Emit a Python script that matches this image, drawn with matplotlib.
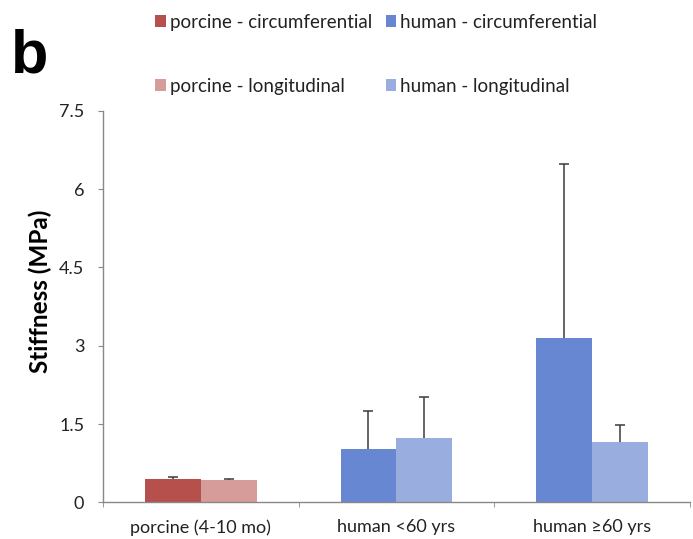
import matplotlib
matplotlib.use('Agg')
import matplotlib.pyplot as plt
from matplotlib.patches import Patch
import numpy as np

plt.rcParams['font.family'] = ['Lato', 'DejaVu Sans']

# data (stiffness, MPa; upper error = SD)
groups = ['porcine (4-10 mo)', 'human <60 yrs', 'human \u226560 yrs']
circ_mean = [0.45, 1.02, 3.14]
circ_sd = [0.03, 0.72, 3.33]
long_mean = [0.43, 1.24, 1.16]
long_sd = [0.02, 0.77, 0.33]

circ_colors = ['#B5504C', '#6887D3', '#6887D3']
long_colors = ['#D69C9A', '#99ADDF', '#99ADDF']
legend_labels = ['porcine - circumferential', 'porcine - longitudinal',
                 'human - circumferential', 'human - longitudinal']
legend_colors = ['#B5504C', '#D69C9A', '#6887D3', '#99ADDF']

yticks = [0, 1.5, 3, 4.5, 6, 7.5]
ytick_labels = ['0', '1.5', '3', '4.5', '6', '7.5']

fig = plt.figure(figsize=(6.93, 5.39), dpi=100)
ax = fig.add_axes([0.1486, 0.068, 0.847, 0.7266])

x = np.arange(len(groups))
w = 0.286
ax.bar(x - w / 2, circ_mean, w, color=circ_colors, zorder=2)
ax.bar(x + w / 2, long_mean, w, color=long_colors, zorder=2)

# upper-only error bars: drop the lower cap that errorbar always draws
for xs, m, sd in ((x - w / 2, circ_mean, circ_sd),
                  (x + w / 2, long_mean, long_sd)):
    _, caps, _ = ax.errorbar(xs, m, yerr=[np.zeros(len(sd)), sd],
                             fmt='none', ecolor='#3a3a3a', elinewidth=1.1,
                             capsize=3.6, capthick=1.1, zorder=3)
    caps[0].remove()

ax.set_xlim(-0.5, len(groups) - 0.5)
ax.set_ylim(0, 7.5)
ax.set_yticks(yticks)
ax.set_yticklabels(ytick_labels)
ax.set_xticks(x)
ax.set_xticklabels(groups)
ax.set_xticks(np.arange(len(groups) + 1) - 0.5, minor=True)
ax.tick_params(axis='x', which='major', length=0, pad=12, labelsize=13,
               labelcolor='#222222')
ax.tick_params(axis='x', which='minor', length=3.5, color='#888888')
ax.tick_params(axis='y', length=3.5, color='#888888', pad=10,
               labelsize=13, labelcolor='#222222')

for s in ('top', 'right'):
    ax.spines[s].set_visible(False)
for s in ('left', 'bottom'):
    ax.spines[s].set_color('#888888')
    ax.spines[s].set_linewidth(1.0)

ax.set_ylabel('Stiffness (MPa)', fontsize=17.5, fontweight='bold')
ax.yaxis.set_label_coords(-0.087, 0.54)

handles = [Patch(facecolor=c) for c in legend_colors]
fig.legend(handles, legend_labels, ncol=2, frameon=False,
           loc='upper left', bbox_to_anchor=(0.2, 1.006),
           fontsize=13.5, handlelength=0.55, handleheight=0.55,
           handletextpad=0.2, columnspacing=0.75, labelspacing=2.5,
           labelcolor='#222222')

fig.text(0.016, 0.948, 'b', fontsize=44, fontweight='bold',
         family='Liberation Sans', va='top', ha='left')

fig.savefig('out.png', dpi=100)
